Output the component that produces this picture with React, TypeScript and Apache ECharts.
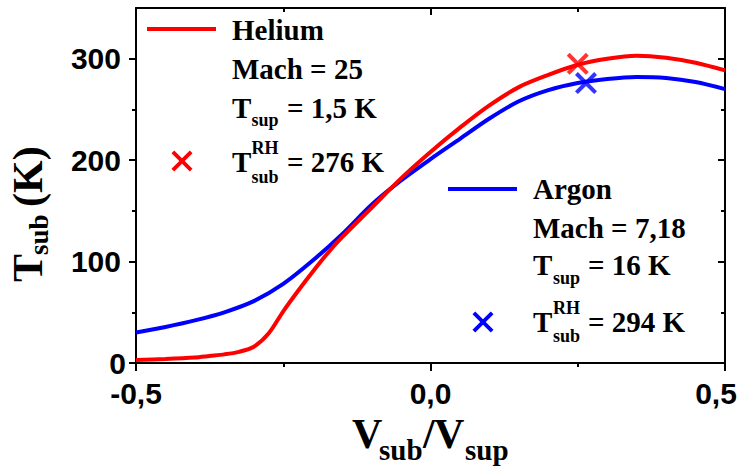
import React, { useEffect, useRef } from "react";
import * as echarts from "echarts";

// ---- data ----
const heliumX = [-0.5, -0.45, -0.4, -0.375, -0.35, -0.325, -0.3, -0.275, -0.25, -0.225, -0.2, -0.175, -0.15, -0.1, -0.05, 0, 0.05, 0.1, 0.15, 0.2, 0.25, 0.3, 0.35, 0.4, 0.45, 0.5];
const heliumY = [3, 4, 5.5, 7, 8.5, 11, 16, 29, 51, 71, 90, 108, 124, 153, 182, 208, 232, 254, 272, 284, 294, 300, 303, 301, 296, 288.5];
const argonX = [-0.5, -0.45, -0.4, -0.35, -0.3, -0.25, -0.2, -0.15, -0.1, -0.05, 0, 0.05, 0.1, 0.15, 0.2, 0.25, 0.3, 0.35, 0.4, 0.45, 0.5];
const argonY = [30, 35.5, 42, 50, 61, 78, 101, 127, 156, 180, 201, 221, 241, 258, 269, 276, 280, 282, 281, 277, 270];
const heliumMarker = [0.25, 295];
const argonMarker = [0.264, 276];
const yMajorTicks = [0, 100, 200, 300];
const yMinorTicks = [50, 150, 250];

const SERIF = '"Liberation Serif", "Times New Roman", serif';
const SANS = '"Liberation Sans", Arial, sans-serif';
const RED = "#ff0000";
const BLUE = "#0000ff";
const CROSS = "path://M1.3,0 L5,3.7 L8.7,0 L10,1.3 L6.3,5 L10,8.7 L8.7,10 L5,6.3 L1.3,10 L0,8.7 L3.7,5 L0,1.3 Z";

function crossPoints(cx: number, cy: number, s: number) {
  const t = [[1.3, 0], [5, 3.7], [8.7, 0], [10, 1.3], [6.3, 5], [10, 8.7], [8.7, 10], [5, 6.3], [1.3, 10], [0, 8.7], [3.7, 5], [0, 1.3]];
  return t.map(([a, b]) => [cx + (a - 5) * s / 10, cy + (b - 5) * s / 10]);
}

function txt(text: string, x: number, y: number, size: number, family = SERIF) {
  return {
    type: "text",
    x,
    y,
    style: {
      text,
      fill: "#000",
      font: `bold ${size}px ${family}`,
      textAlign: "left",
      textVerticalAlign: "middle",
      verticalAlign: "middle",
    },
  };
}

export default function App() {
  const ref = useRef<HTMLDivElement>(null);
  useEffect(() => {
    const chart = echarts.init(ref.current!, null, { renderer: "svg" });
    const axisLine = { show: true, onZero: false, lineStyle: { color: "#000", width: 2 } };
    const hiddenLine = { show: false, onZero: false };
    const tickStyle = { color: "#000", width: 2 };
    const labelFont = { fontFamily: SANS, fontWeight: "bold" as const, fontSize: 30, color: "#000" };

    const graphic: any[] = [
      // Helium legend block
      { type: "line", shape: { x1: 147, y1: 29, x2: 216, y2: 29 }, style: { stroke: RED, lineWidth: 4 } },
      txt("Helium", 232, 29.5, 29),
      txt("Mach = 25", 232, 68.5, 29),
      txt("T", 232, 107.5, 29),
      txt("sup", 251.5, 120, 18),
      txt("= 1,5 K", 287, 107.5, 29),
      { type: "polygon", shape: { points: crossPoints(182, 161, 21) }, style: { fill: RED } },
      txt("T", 232, 162, 29),
      txt("RH", 251.5, 147.5, 18),
      txt("sub", 251.5, 177, 18),
      txt("= 276 K", 287, 162, 29),
      // Argon legend block
      { type: "line", shape: { x1: 448, y1: 189, x2: 517, y2: 189 }, style: { stroke: BLUE, lineWidth: 4 } },
      txt("Argon", 533, 189, 29),
      txt("Mach = 7,18", 533, 228, 29),
      txt("T", 533, 265, 29),
      txt("sup", 553, 278, 18),
      txt("= 16 K", 588, 265, 29),
      { type: "polygon", shape: { points: crossPoints(483, 322, 21) }, style: { fill: BLUE } },
      txt("T", 533, 322, 29),
      txt("RH", 553, 307.5, 18),
      txt("sub", 553, 336, 18),
      txt("= 294 K", 588, 322, 29),
      // x axis title
      txt("V", 352, 434, 42),
      txt("sub", 379, 450, 29),
      txt("/", 423, 434, 42),
      txt("V", 434, 434, 42),
      txt("sup", 465, 450, 29),
      // y axis title (rotated)
      {
        type: "group",
        x: 42,
        y: 282,
        rotation: Math.PI / 2,
        children: [txt("T", 0, -14, 42), txt("sub", 27, -3, 27), txt("(K)", 75, -14, 42)],
      },
    ];

    chart.setOption({
      animation: false,
      backgroundColor: "#fff",
      grid: { left: 136, right: 24, top: 8, bottom: 104, containLabel: false, outerBoundsMode: "none" },
      xAxis: [
        {
          type: "value",
          position: "bottom",
          min: -0.5,
          max: 0.5,
          interval: 0.5,
          axisLine,
          axisTick: { show: true, inside: false, length: 8, lineStyle: tickStyle },
          minorTick: { show: true, splitNumber: 2, length: 4, lineStyle: tickStyle },
          splitLine: { show: false },
          minorSplitLine: { show: false },
          axisLabel: {
            ...labelFont,
            lineHeight: 24,
            margin: 18,
            formatter: (v: number) => {
              const s = v.toFixed(1).replace(".", ",");
              return v >= 0.49 ? `{r|${s}}` : s;
            },
            rich: { r: { ...labelFont, lineHeight: 24, padding: [0, 18, 0, 0] } },
          },
        },
        {
          type: "value",
          position: "top",
          min: -0.5,
          max: 0.5,
          interval: 0.5,
          axisLine,
          axisTick: { show: true, inside: true, length: 7, lineStyle: tickStyle },
          minorTick: { show: true, splitNumber: 2, length: 4, lineStyle: tickStyle },
          splitLine: { show: false },
          minorSplitLine: { show: false },
          axisLabel: { show: false },
        },
      ],
      yAxis: [
        {
          type: "value",
          position: "left",
          min: 0,
          max: 350,
          axisLine,
          axisTick: { show: true, inside: false, length: 7, lineStyle: tickStyle, customValues: yMajorTicks },
          splitLine: { show: false },
          axisLabel: {
            ...labelFont,
            lineHeight: 24,
            margin: 10,
            customValues: yMajorTicks,
            formatter: (v: number) => (v === 0 ? "0" : `{n|${v}}`),
            rich: { n: { ...labelFont, lineHeight: 24, padding: [0, 5, 0, 0] } },
          },
        },
        {
          type: "value",
          position: "left",
          min: 0,
          max: 350,
          axisLine: hiddenLine,
          axisTick: { show: true, inside: false, length: 4, lineStyle: tickStyle, customValues: yMinorTicks },
          splitLine: { show: false },
          axisLabel: { show: false },
        },
        {
          type: "value",
          position: "right",
          min: 0,
          max: 350,
          axisLine,
          axisTick: { show: true, inside: true, length: 7, lineStyle: tickStyle, customValues: yMajorTicks },
          splitLine: { show: false },
          axisLabel: { show: false },
        },
        {
          type: "value",
          position: "right",
          min: 0,
          max: 350,
          axisLine: hiddenLine,
          axisTick: { show: true, inside: true, length: 4, lineStyle: tickStyle, customValues: yMinorTicks },
          splitLine: { show: false },
          axisLabel: { show: false },
        },
      ],
      series: [
        {
          name: "Argon",
          type: "line",
          data: argonX.map((x, i) => [x, argonY[i]]),
          smooth: 0.3,
          symbol: "none",
          lineStyle: { color: BLUE, width: 4 },
          itemStyle: { color: BLUE },
          z: 2,
        },
        {
          name: "Helium",
          type: "line",
          data: heliumX.map((x, i) => [x, heliumY[i]]),
          smooth: 0.3,
          symbol: "none",
          lineStyle: { color: RED, width: 4 },
          itemStyle: { color: RED },
          z: 3,
        },
        {
          name: "Helium RH",
          type: "scatter",
          data: [heliumMarker],
          symbol: CROSS,
          symbolSize: 22,
          itemStyle: { color: RED },
          z: 4,
        },
        {
          name: "Argon RH",
          type: "scatter",
          data: [argonMarker],
          symbol: CROSS,
          symbolSize: 22,
          itemStyle: { color: BLUE },
          z: 4,
        },
      ],
      graphic,
    });
    return () => chart.dispose();
  }, []);
  return (
    <div
      ref={ref}
      style={{ position: "fixed", left: 0, top: 0, width: 749, height: 467, background: "#fff" }}
    />
  );
}
